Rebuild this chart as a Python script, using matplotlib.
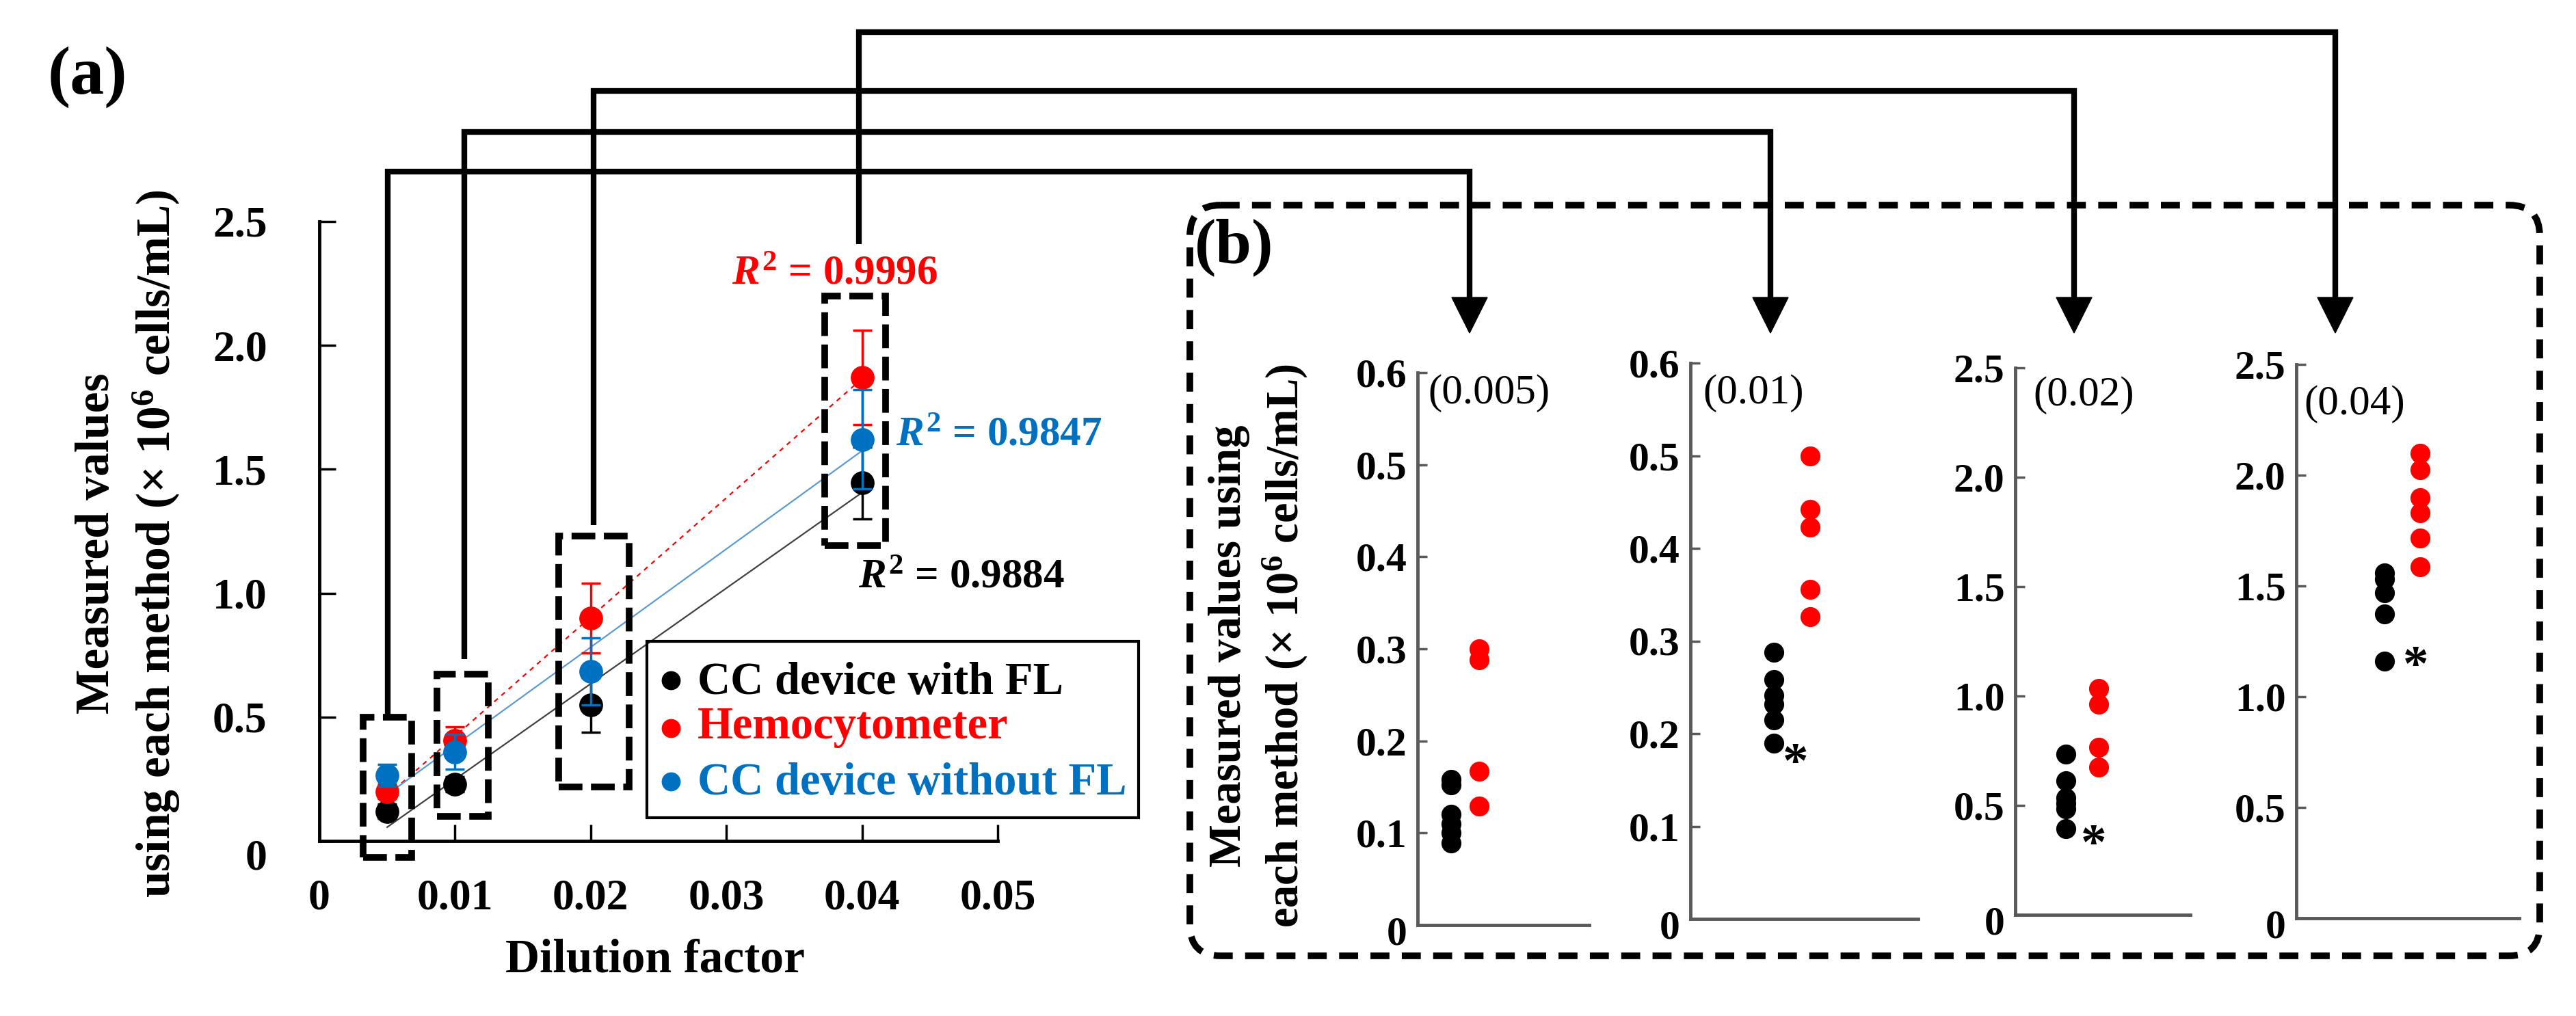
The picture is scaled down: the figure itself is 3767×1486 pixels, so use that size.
import numpy as np
import matplotlib
matplotlib.use("Agg")
import matplotlib.pyplot as plt
from matplotlib.patches import Rectangle, FancyBboxPatch, Polygon
from matplotlib.transforms import ScaledTranslation

plt.rcParams["font.family"] = ["Liberation Serif", "DejaVu Serif"]
plt.rcParams["font.weight"] = "bold"
plt.rcParams["mathtext.fontset"] = "custom"
plt.rcParams["mathtext.rm"] = "Liberation Serif:bold"
plt.rcParams["mathtext.it"] = "Liberation Serif:italic:bold"
plt.rcParams["mathtext.bf"] = "Liberation Serif:bold"
plt.rcParams["lines.scale_dashes"] = False

# ---- data: panel (a) ----
dilution = [0.005, 0.01, 0.02, 0.04]
cc_fl_mean = [0.12, 0.23, 0.55, 1.445]
cc_fl_err = [0.03, 0.03, 0.11, 0.145]
hemo_mean = [0.20, 0.405, 0.90, 1.87]
hemo_err = [0.03, 0.055, 0.14, 0.19]
cc_nofl_mean = [0.265, 0.36, 0.685, 1.62]
cc_nofl_err = [0.045, 0.07, 0.135, 0.20]
r2_labels = ["0.9884", "0.9996", "0.9847"]
series_names = ["CC device with FL", "Hemocytometer", "CC device without FL"]
x_ticks_a = [0, 0.01, 0.02, 0.03, 0.04, 0.05]
x_ticklabels_a = ["0", "0.01", "0.02", "0.03", "0.04", "0.05"]
y_ticks_a = [0, 0.5, 1.0, 1.5, 2.0, 2.5]
y_ticklabels_a = ["0", "0.5", "1.0", "1.5", "2.0", "2.5"]

# ---- data: panel (b) ----
b_titles = ["(0.005)", "(0.01)", "(0.02)", "(0.04)"]
b_cc_fl = [
    [0.158, 0.152, 0.12, 0.11, 0.10, 0.089],
    [0.288, 0.258, 0.241, 0.232, 0.215, 0.190],
    [0.734, 0.613, 0.535, 0.51, 0.485, 0.394],
    [1.56, 1.53, 1.47, 1.373, 1.16],
]
b_hemo = [
    [0.30, 0.288, 0.167, 0.129],
    [0.50, 0.442, 0.423, 0.356, 0.326],
    [1.035, 0.962, 0.765, 0.675],
    [2.10, 2.025, 1.898, 1.83, 1.716, 1.586],
]
b_ylims = [0.6, 0.6, 2.5, 2.5]
b_ysteps = [0.1, 0.1, 0.5, 0.5]

BLACK = "#000000"
RED = "#FF0000"
BLUE = "#0070C0"
colors = [BLACK, RED, BLUE]
fit_colors = ["#404040", "#FF0000", "#5B9BD5"]

W, H = 3767, 1486
fig = plt.figure(figsize=(W / 100, H / 100), dpi=100)


def rect(x0, y0, x1, y1):
    return [x0 / W, 1 - y1 / H, (x1 - x0) / W, (y1 - y0) / H]


def fmt_tick(v):
    return "0" if v == 0 else f"{v:.1f}"


def shift_zero_label(ax, dy_px):
    lbl = ax.get_yticklabels()[0]
    lbl.set_transform(lbl.get_transform() + ScaledTranslation(0, -dy_px / 100, fig.dpi_scale_trans))


# ================= panel (a) =================
ax = fig.add_axes(rect(467, 324, 1459, 1230))
ax.set_xlim(0, 0.05)
ax.set_ylim(0, 2.5)
for s in ["top", "right"]:
    ax.spines[s].set_visible(False)
for s in ["left", "bottom"]:
    ax.spines[s].set_linewidth(3.5)
ax.set_xticks(x_ticks_a)
ax.set_xticklabels(x_ticklabels_a)
ax.set_yticks(y_ticks_a)
ax.set_yticklabels(y_ticklabels_a)
ax.tick_params(axis="both", direction="in", length=17, width=2.5, labelsize=46)
ax.tick_params(axis="x", pad=40)
ax.tick_params(axis="y", pad=55)
shift_zero_label(ax, 20)

means = [cc_fl_mean, hemo_mean, cc_nofl_mean]
errs = [cc_fl_err, hemo_err, cc_nofl_err]
x_fit = np.array([dilution[0], dilution[-1]])
for m, c, ls in zip(means, fit_colors, ["-", (0, (5, 5)), "-"]):
    coef = np.polyfit(dilution, m, 1)
    ax.plot(x_fit, np.polyval(coef, x_fit), color=c, lw=1.6, linestyle=ls, zorder=2)
for i in [0, 1, 2]:
    ax.errorbar(dilution, means[i], yerr=errs[i], fmt="o", color=colors[i], ms=24,
                elinewidth=2.5, capsize=10, capthick=2.5, zorder=3 + i)

# dashed highlight boxes (data coordinates of panel a)
boxes = [(0.00321, 0.00682, -0.066, 0.50),
         (0.00867, 0.01243, 0.099, 0.674),
         (0.01764, 0.02281, 0.218, 1.232),
         (0.03724, 0.04175, 1.193, 2.20)]
for x0, x1, y0, y1 in boxes:
    ax.add_patch(Rectangle((x0, y0), x1 - x0, y1 - y0, fill=False, ec="black", lw=7,
                           linestyle=(0, (25, 9)), clip_on=False, zorder=6))

# ================= panel (b) =================
b_rects = [(2073, 545, 2324, 1353), (2472, 531, 2805, 1344),
           (2947, 538, 3203, 1338), (3358, 533, 3684, 1343)]
b_xpos = [(0.195, 0.36), (0.366, 0.526), (0.289, 0.477), (0.396, 0.555)]
title_off = [(15, -30), (18, -44), (26, -40), (11, -58)]
star_off = [None, (32, -32), (41, -26), (46, -10)]
GRAY = "#595959"
for k in range(4):
    bx = fig.add_axes(rect(*b_rects[k]))
    bx.set_xlim(0, 1)
    bx.set_ylim(0, b_ylims[k])
    for s in ["top", "right"]:
        bx.spines[s].set_visible(False)
    for s in ["left", "bottom"]:
        bx.spines[s].set_linewidth(3.5)
        bx.spines[s].set_color(GRAY)
    yt = np.round(np.arange(0, b_ylims[k] + 1e-9, b_ysteps[k]), 2)
    bx.set_yticks(yt)
    bx.set_yticklabels([fmt_tick(v) for v in yt])
    bx.set_xticks([])
    bx.tick_params(axis="y", direction="in", length=10, width=2.5, color=GRAY,
                   labelsize=43, pad=11)
    shift_zero_label(bx, 8)
    xb, xr = b_xpos[k]
    bx.plot([xb] * len(b_cc_fl[k]), b_cc_fl[k], "o", color=BLACK, ms=20, clip_on=False)
    bx.plot([xr] * len(b_hemo[k]), b_hemo[k], "o", color=RED, ms=20, clip_on=False)
    bx.annotate(b_titles[k], xy=(0, 1), xycoords="axes fraction", xytext=title_off[k],
                textcoords="offset pixels", ha="left", va="center", fontsize=44,
                fontweight="normal")
    if star_off[k] is not None:
        bx.annotate("*", xy=(xb, min(b_cc_fl[k])), xytext=star_off[k],
                    textcoords="offset pixels", ha="center", va="center", fontsize=54)

# ================= overlay (pixel coordinates) =================
ov = fig.add_axes([0, 0, 1, 1])
ov.set_xlim(0, W)
ov.set_ylim(H, 0)
ov.axis("off")
ov.set_zorder(10)

ov.text(128, 113, "(a)", ha="center", va="center", fontsize=72)
ov.text(1805, 362, "(b)", ha="center", va="center", fontsize=68)

ov.text(188, 795, "Measured values\nusing each method (× $10^{6}$ cells/mL)", rotation=90,
        ha="center", va="center", multialignment="center", fontsize=50, linespacing=1.3)
ov.text(958, 1422, "Dilution factor", ha="center", va="baseline", fontsize=50)
ov.text(1841, 945, "Measured values using\neach method (× $10^{6}$ cells/mL)", rotation=90,
        ha="center", va="center", multialignment="center", fontsize=48, linespacing=1.3)

# R^2 labels
r2_pos = [(1255, 859), (1070, 415), (1310, 652)]
for (tx, ty), lab, c in zip(r2_pos, r2_labels, colors):
    ov.text(tx, ty, "$R^{2}$ = " + lab, color=c, ha="left", va="baseline", fontsize=44)

# legend
ov.add_patch(Rectangle((946, 938), 719, 258, fill=False, ec="black", lw=3))
leg_rows = [(995, 1015), (1065, 1080), (1143, 1162)]
for (dy, by), name, c in zip(leg_rows, series_names, colors):
    ov.plot([981], [dy], "o", color=c, ms=19)
    ov.text(1020, by, name, color=c, ha="left", va="baseline", fontsize=48)

# connector arrows from (a) boxes to (b) panels
connectors = [(567, 1046, 251, 2149), (679, 964, 193, 2589),
              (868, 768, 133, 3033), (1256, 357, 47, 3415)]
tip_y, head_len, head_w = 487, 52, 52
for vx, y_start, level, arrow_x in connectors:
    ov.plot([vx, vx, arrow_x, arrow_x], [y_start, level, level, tip_y - head_len + 2],
            color="black", lw=6, solid_joinstyle="miter", solid_capstyle="butt")
    ov.add_patch(Polygon([(arrow_x - head_w / 2, tip_y - head_len),
                          (arrow_x + head_w / 2, tip_y - head_len),
                          (arrow_x, tip_y)], closed=True, color="black"))

# dashed rounded frame around (b)
ov.add_patch(FancyBboxPatch((1740, 300), 3714 - 1740, 1398 - 300,
                            boxstyle="round,pad=0,rounding_size=45", fill=False,
                            ec="black", lw=7, linestyle=(0, (20, 13))))

fig.savefig("out.png", dpi=100, facecolor="white")
